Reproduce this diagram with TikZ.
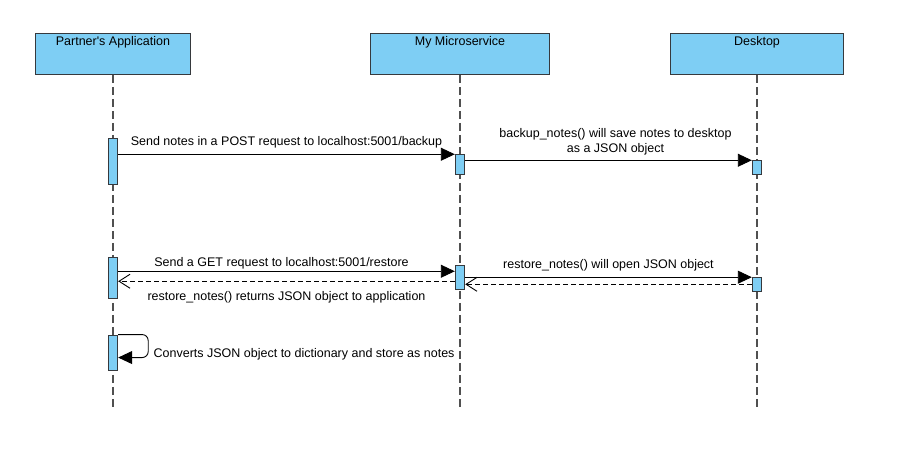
\documentclass[tikz,border=0pt]{standalone}
\usepackage{fontspec}
\setmainfont{Liberation Sans}
\usetikzlibrary{positioning,arrows.meta}
\definecolor{boxfill}{RGB}{126,206,244}
\definecolor{boxline}{RGB}{54,57,61}
\definecolor{lifeline}{RGB}{80,80,80}

\begin{document}
\begin{tikzpicture}[x=1pt,y=-1pt,
  lifehead/.style={draw=boxline,fill=boxfill,line width=1.1pt,minimum width=#1,
    inner xsep=0pt,inner ysep=3pt,text height=9pt,text depth=26pt,font=\fontsize{12.5}{14}\selectfont},
  life/.style={draw=lifeline,line width=1.2pt,dash pattern=on 8pt off 4pt},
  actbar/.style={draw=boxline,fill=boxfill,line width=0.9pt,minimum width=9.5pt,
    minimum height=#1,inner sep=0pt},
  msg/.style={draw=black,line width=0.9pt,-{Triangle[length=14pt,width=13pt]}},
  reply/.style={draw=black,line width=0.9pt,dash pattern=on 5pt off 3pt,
    -{Straight Barb[length=11pt,width=14pt]}},
  txt/.style={font=\fontsize{12.5}{15}\selectfont,inner sep=2pt,align=center}]
  \useasboundingbox (0,0) rectangle (900,472);

  % lifeline heads
  \node[lifehead=154.6pt] (pa) at (113,53.7) {Partner\textquotesingle s Application};
  \node[lifehead=178.6pt] (ms) at (460,53.7) {My Microservice};
  \node[lifehead=172.6pt] (dt) at (757,53.7) {Desktop};
  \coordinate (pa-end) at (113,407);
  \coordinate (ms-end) at (460,407);
  \coordinate (dt-end) at (757,407);
  \draw[life] (pa.south) -- (pa-end);
  \draw[life] (ms.south) -- (ms-end);
  \draw[life] (dt.south) -- (dt-end);

  % activation bars
  \node[actbar=46.4pt] (pa1) at (113,161.5) {};
  \node[actbar=20pt]   (ms1) at (460,164.7) {};
  \node[actbar=14pt]   (dt1) at (757,167.7) {};
  \node[actbar=41pt]   (pa2) at (113,277.8) {};
  \node[actbar=24pt]   (ms2) at (460,277) {};
  \node[actbar=13.3pt] (dt2) at (757,284.3) {};
  \node[actbar=35pt]   (pa3) at (113,352.5) {};
  \coordinate (get-in)  at ([yshift=-6.7pt]ms2.north west);
  \coordinate (ret-out) at ([yshift=-16.7pt]ms2.north west);

  % backup
  \draw[msg] (pa1.east |- ms1.north west) -- (ms1.north west)
    node[txt,midway,above=4pt] {Send notes in a POST request to localhost:5001/backup};
  \draw[msg] (ms1.east |- dt1.north west) -- (dt1.north west)
    node[txt,midway,above=3pt,xshift=7pt] {backup\_notes() will save notes to desktop\\as a JSON object};

  % restore
  \draw[msg] (pa2.east |- get-in) -- (get-in)
    node[txt,midway,above=0pt,xshift=-5pt] {Send a GET request to localhost:5001/restore};
  \draw[reply] (ret-out) -- (pa2.east |- ret-out)
    node[txt,midway,below=8pt] {restore\_notes() returns JSON object to application};
  \draw[msg] (ms2.east |- dt2.north west) -- (dt2.north west)
    node[txt,midway,above=4pt] {restore\_notes() will open JSON object};
  \draw[reply] (dt2.west) -- (ms2.east |- dt2.west);

  % self call
  \draw[msg,rounded corners=6pt] (pa3.north east) -- ++(30,0) -- ++(0,23)
    node[txt,anchor=west,xshift=3pt,yshift=3pt] {Converts JSON object to dictionary and store as notes}
    -- ([yshift=-23pt]pa3.north east);
\end{tikzpicture}
\end{document}
